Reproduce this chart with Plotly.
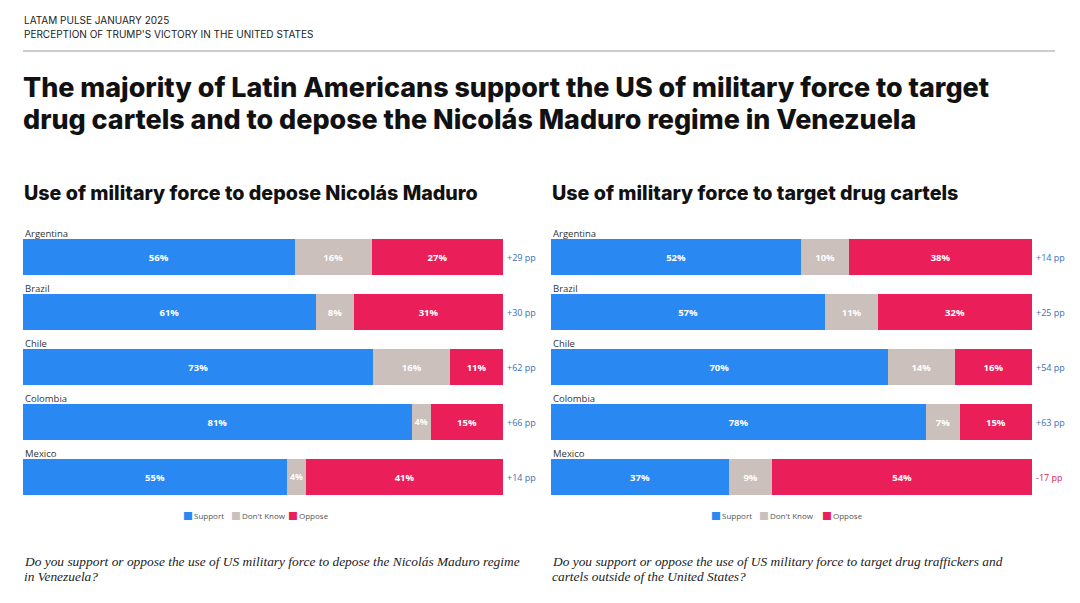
import plotly.graph_objects as go

# The page body adds an 8px margin, so the figure is sized to fill the 1080x603 window.
PAGE_W, PAGE_H = 1080, 603
OFF = 8
W, H = PAGE_W - 2 * OFF, PAGE_H - 2 * OFF

countries = ["Argentina", "Brazil", "Chile", "Colombia", "Mexico"]

maduro_support = [56, 61, 73, 81, 55]
maduro_dontknow = [16, 8, 16, 4, 4]
maduro_oppose = [27, 31, 11, 15, 41]
maduro_net = ["+29 pp", "+30 pp", "+62 pp", "+66 pp", "+14 pp"]

cartels_support = [52, 57, 70, 78, 37]
cartels_dontknow = [10, 11, 14, 7, 9]
cartels_oppose = [38, 32, 16, 15, 54]
cartels_net = ["+14 pp", "+25 pp", "+54 pp", "+63 pp", "-17 pp"]

series_names = ["Support", "Don't Know", "Oppose"]
series_colors = ["#2a88f2", "#cbc0bc", "#ea1f5a"]

header_lines = ["LATAM PULSE JANUARY 2025", "PERCEPTION OF TRUMP'S VICTORY IN THE UNITED STATES"]
title_lines = ["The majority of Latin Americans support the US of military force to target",
               "drug cartels and to depose the Nicolás Maduro regime in Venezuela"]
left_subtitle = "Use of military force to depose Nicolás Maduro"
right_subtitle = "Use of military force to target drug cartels"
left_question = ["Do you support or oppose the use of US military force to depose the Nicolás Maduro regime",
                 "in Venezuela?"]
right_question = ["Do you support or oppose the use of US military force to target drug traffickers and",
                  "cartels outside of the United States?"]

def px_x(p):
    return (p - OFF) / W

def px_y(p):
    return 1 - (p - OFF) / H

fig = go.Figure()

panels = [
    ("x", "y", [maduro_support, maduro_dontknow, maduro_oppose]),
    ("x2", "y2", [cartels_support, cartels_dontknow, cartels_oppose]),
]
for xa, ya, vals in panels:
    for name, color, v in zip(series_names, series_colors, vals):
        fig.add_trace(go.Bar(
            y=countries, x=v, orientation="h", name=name,
            marker=dict(color=color, line=dict(width=0)),
            text=[f"{a}%" for a in v], texttemplate="%{text}",
            textposition="inside", insidetextanchor="middle", textangle=0,
            textfont=dict(family="Open Sans", size=9.5, color="white", weight="bold"),
            xaxis=xa, yaxis=ya, width=0.64, showlegend=False,
            hoverinfo="skip",
        ))

ydom = [px_y(504.5), px_y(229.5)]
axis_common = dict(showgrid=False, zeroline=False, showticklabels=False, showline=False, ticks="")
fig.update_layout(
    width=W, height=H,
    margin=dict(l=0, r=0, t=0, b=0),
    paper_bgcolor="white", plot_bgcolor="white",
    barmode="stack", barnorm="percent",
    xaxis=dict(domain=[px_x(23), px_x(503)], range=[0, 100], **axis_common),
    xaxis2=dict(domain=[px_x(551), px_x(1032)], range=[0, 100], **axis_common),
    yaxis=dict(domain=ydom, range=[len(countries) - 0.5, -0.5], anchor="x", **axis_common),
    yaxis2=dict(domain=ydom, range=[len(countries) - 0.5, -0.5], anchor="x2", **axis_common),
    showlegend=False,
)

ann = []
def text(x, y, s, size, family="Inter", color="#111", weight="normal", style="normal"):
    ann.append(dict(xref="paper", yref="paper", x=px_x(x), y=px_y(y), text=s, showarrow=False,
                    xanchor="left", yanchor="middle",
                    font=dict(family=family, size=size, color=color, weight=weight, style=style)))

text(22, 20, header_lines[0], 10, color="#222")
text(22, 34, header_lines[1], 10, color="#222")
text(21, 87, title_lines[0], 26.9, weight=800, color="#111")
text(21, 119, title_lines[1], 26.9, weight=800, color="#111")
text(22, 193, left_subtitle, 19.7, weight=800, color="#111")
text(550, 193, right_subtitle, 19.7, weight=800, color="#111")
text(22, 561, left_question[0], 13.4, family="Liberation Serif", style="italic", color="#222")
text(22, 576, left_question[1], 13.4, family="Liberation Serif", style="italic", color="#222")
text(550, 561, right_question[0], 13.4, family="Liberation Serif", style="italic", color="#222")
text(550, 576, right_question[1], 13.4, family="Liberation Serif", style="italic", color="#222")

# colour key under each panel
legend_x = [[182, 230, 287], [710, 758, 821]]
for starts in legend_x:
    for name, color, sx in zip(series_names, series_colors, starts):
        ann.append(dict(xref="paper", yref="paper", x=px_x(sx - 1), y=px_y(515), text="■",
                        showarrow=False, xanchor="left", yanchor="middle",
                        font=dict(family="DejaVu Sans", size=10.5, color=color)))
        ann.append(dict(xref="paper", yref="paper", x=px_x(sx + 9.5), y=px_y(515), text=name,
                        showarrow=False, xanchor="left", yanchor="middle",
                        font=dict(family="Open Sans", size=8, color="#555")))

for xr, yr, nets in [("x domain", "y", maduro_net), ("x2 domain", "y2", cartels_net)]:
    for c, n in zip(countries, nets):
        ann.append(dict(xref=xr, yref=yr, x=0, y=c, yshift=24, text=c, showarrow=False,
                        xanchor="left", yanchor="middle",
                        font=dict(family="Open Sans", size=9.5, color="#333")))
        col = "#d0285a" if n.startswith("-") else "#3b6fb6"
        ann.append(dict(xref=xr, yref=yr, x=1, y=c, xshift=2, text=n, showarrow=False,
                        xanchor="left", yanchor="middle",
                        font=dict(family="Open Sans", size=9, color=col)))

fig.update_layout(annotations=ann)
fig.add_shape(type="line", xref="paper", yref="paper", x0=px_x(23), x1=px_x(1055),
              y0=px_y(51), y1=px_y(51), line=dict(color="#9a9a9a", width=1.2))

fig.write_html("out.html")
